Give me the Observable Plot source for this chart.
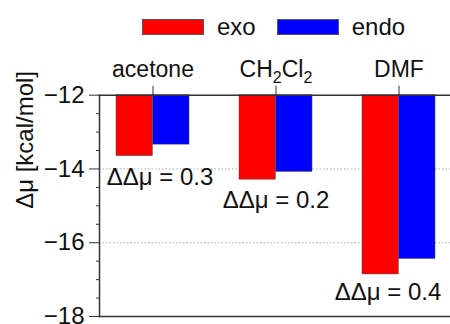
<!DOCTYPE html>
<html><head><meta charset="utf-8">
<script src="https://cdn.jsdelivr.net/npm/d3@7"></script>
<script src="https://cdn.jsdelivr.net/npm/@observablehq/plot@0.6"></script>
<style>
body{margin:0;background:#fff;font-family:"Liberation Sans",Arial,sans-serif;color:#111;width:450px;height:324px;overflow:hidden}
#legend{height:45px;display:flex;align-items:center;padding-left:142px;box-sizing:border-box;padding-top:9px;font-size:24px}
.sw{width:62px;height:16px;border:0.5px solid #555;box-sizing:border-box}
.lb{margin-left:13px;margin-right:21px;line-height:20px}
#chart svg{display:block}
</style></head>
<body>
<div id="legend"></div>
<div id="chart"></div>
<script>
const solvents = ["acetone", "CH2Cl2", "DMF"];
const exo = [-13.65, -14.29, -16.86];
const endo = [-13.34, -14.08, -16.44];
const ddmuLabels = ["ΔΔμ = 0.3", "ΔΔμ = 0.2", "ΔΔμ = 0.4"];
const seriesNames = ["exo", "endo"];
const seriesColors = ["#ff0000", "#0000ff"];
const yTicks = [-12, -14, -16, -18];
const yMinorTicks = [-12.5, -13, -13.5, -14.5, -15, -15.5, -16.5, -17, -17.5];
const gridValues = [-14, -16];
const yLabel = "Δμ [kcal/mol]";

const legend = document.getElementById("legend");
seriesNames.forEach((n, i) => {
  const s = document.createElement("div"); s.className = "sw"; s.style.background = seriesColors[i];
  const t = document.createElement("div"); t.className = "lb"; t.textContent = n;
  legend.append(s, t);
});

const data = solvents.map((s, i) => ({solvent: s, exo: exo[i], endo: endo[i], label: ddmuLabels[i]}));
const font = '"Liberation Sans", Arial, sans-serif';

const chart = Plot.plot({
  width: 450, height: 279,
  marginLeft: 99, marginRight: 0, marginTop: 49.7, marginBottom: 8,
  style: {fontSize: "24px", fontFamily: font, color: "#111", background: "#fff", overflow: "visible"},
  x: {domain: solvents, range: [90.6, 460.7], paddingInner: 0.405, paddingOuter: 0.2025, align: 0.5, axis: null},
  y: {domain: [-18, -12], axis: null},
  marks: [
    Plot.ruleY(gridValues, {stroke: "#aaa", strokeDasharray: "1.5,2", strokeWidth: 1}),
    Plot.barY(data, {x: "solvent", y1: () => -12, y2: "exo", insetRight: 36.7, fill: seriesColors[0], stroke: "#444", strokeWidth: 0.5}),
    Plot.barY(data, {x: "solvent", y1: () => -12, y2: "endo", insetLeft: 36.7, fill: seriesColors[1], stroke: "#444", strokeWidth: 0.5}),
    Plot.text(data.slice(0, 1), {x: "solvent", y: "exo", text: "label", dx: 7, dy: 21, fontSize: 24, fill: "#111"}),
    Plot.text(data.slice(1, 2), {x: "solvent", y: "exo", text: "label", dx: 0, dy: 21, fontSize: 24, fill: "#111"}),
    Plot.text(data.slice(2, 3), {x: "solvent", y: "exo", text: "label", dx: -11, dy: 18, fontSize: 24, fill: "#111"}),
    Plot.axisX({anchor: "top", tickSize: 10, tickPadding: 8, label: null, stroke: "#333", fontSize: 23}),
    Plot.axisY({anchor: "left", ticks: yTicks, tickSize: 10, tickPadding: 5, tickFormat: d3.format("d"), label: null, stroke: "#333", fontSize: 24}),
    Plot.axisY({anchor: "left", ticks: yMinorTicks, tickSize: 3, tickFormat: () => "", label: null, stroke: "#333"}),
    Plot.text([yLabel], {frameAnchor: "left", text: d => d, rotate: -90, dx: -74, dy: 3, fontSize: 24, fill: "#111"}),
    Plot.frame({anchor: "top", stroke: "#333", strokeWidth: 1.5}),
    Plot.frame({anchor: "left", stroke: "#333", strokeWidth: 1.5}),
    Plot.frame({anchor: "bottom", stroke: "#333", strokeWidth: 1.5})
  ]
});
document.getElementById("chart").append(chart);

// subscripts for CH2Cl2
chart.querySelectorAll("text").forEach(t => {
  if (t.textContent === "CH2Cl2") {
    t.textContent = "";
    const parts = [["CH", 0, null], ["2", 6, 16], ["Cl", -6, null], ["2", 6, 16]];
    parts.forEach(([s, dy, fs]) => {
      const ts = document.createElementNS("http://www.w3.org/2000/svg", "tspan");
      ts.textContent = s;
      if (dy) ts.setAttribute("dy", dy);
      if (fs) ts.setAttribute("font-size", fs);
      t.appendChild(ts);
    });
  }
});
</script>
</body></html>
